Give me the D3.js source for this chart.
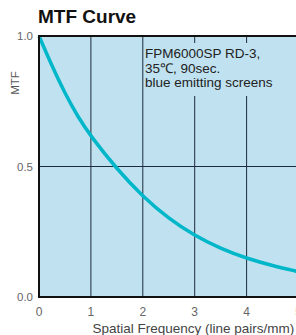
<!DOCTYPE html>
<html>
<head>
<meta charset="utf-8">
<script src="https://cdn.jsdelivr.net/npm/d3@7"></script>
<style>
  body { margin: 0; background: #fff; overflow: hidden; }
  text { font-family: "Liberation Sans", Arial, sans-serif; }
</style>
</head>
<body>
<div id="chart"></div>
<script>
// data
const freq = [0, 0.25, 0.5, 0.75, 1, 1.5, 2, 2.5, 3, 3.5, 4, 4.5, 5];
const mtf = [1.0, 0.885, 0.78, 0.69, 0.615, 0.49, 0.385, 0.30, 0.235, 0.185, 0.148, 0.12, 0.097];
const xTicks = [0, 1, 2, 3, 4, 5];
const yTicks = [0, 0.5, 1.0];
const noteLines = ['FPM6000SP RD-3,', '35\u2103, 90sec.', 'blue emitting screens'];

const width = 296;
const height = 335;
const margin = { top: 36, left: 39, bottom: 38 };
const plotRight = 298.5;

const svg = d3.select('#chart')
  .append('svg')
  .attr('width', width)
  .attr('height', height);

const x = d3.scaleLinear().domain([0, 5]).range([margin.left, plotRight]);
const y = d3.scaleLinear().domain([0, 1]).range([height - margin.bottom, margin.top]);

const bg = '#bfe1f0';
const gridColor = '#1c2c3c';

// title
svg.append('text')
  .attr('x', 38)
  .attr('y', 23)
  .attr('font-size', 19)
  .attr('font-weight', 'bold')
  .attr('fill', '#111')
  .text('MTF Curve');

// plot background
svg.append('rect')
  .attr('x', x(0))
  .attr('y', y(1))
  .attr('width', x(5) - x(0))
  .attr('height', y(0) - y(1))
  .attr('fill', bg);

// vertical grid
svg.append('g')
  .selectAll('line')
  .data(xTicks.filter(d => d > 0 && d < 5))
  .enter()
  .append('line')
  .attr('x1', d => x(d))
  .attr('x2', d => x(d))
  .attr('y1', y(1))
  .attr('y2', y(0))
  .attr('stroke', gridColor)
  .attr('stroke-width', 1);

// horizontal grid
svg.append('g')
  .selectAll('line')
  .data(yTicks.filter(d => d > 0 && d < 1))
  .enter()
  .append('line')
  .attr('x1', x(0))
  .attr('x2', x(5))
  .attr('y1', d => y(d))
  .attr('y2', d => y(d))
  .attr('stroke', gridColor)
  .attr('stroke-width', 1);

// note box hides the grid behind the text
svg.append('rect')
  .attr('x', 146)
  .attr('y', 43)
  .attr('width', 160)
  .attr('height', 53)
  .attr('fill', bg);

svg.append('g')
  .selectAll('text')
  .data(noteLines)
  .enter()
  .append('text')
  .attr('x', 145)
  .attr('y', (d, i) => 58 + i * 14.5)
  .attr('font-size', 13.5)
  .attr('fill', '#222')
  .text(d => d);

// curve
const line = d3.line()
  .x((d, i) => x(freq[i]))
  .y(d => y(d))
  .curve(d3.curveBasis);

svg.append('path')
  .attr('d', line(mtf))
  .attr('fill', 'none')
  .attr('stroke', '#00b7c9')
  .attr('stroke-width', 3.5);

// frame
svg.append('path')
  .attr('d', `M${x(5)},${y(1)}H${x(0)}V${y(0)}H${x(5)}`)
  .attr('fill', 'none')
  .attr('stroke', '#111')
  .attr('stroke-width', 2);

// y tick labels
svg.append('g')
  .selectAll('text')
  .data(yTicks)
  .enter()
  .append('text')
  .attr('x', 33)
  .attr('y', d => y(d) + 4)
  .attr('text-anchor', 'end')
  .attr('font-size', 11.5)
  .attr('fill', '#666')
  .text(d => d.toFixed(1));

// x tick labels
svg.append('g')
  .selectAll('text')
  .data(xTicks)
  .enter()
  .append('text')
  .attr('x', d => x(d))
  .attr('y', 316)
  .attr('text-anchor', 'middle')
  .attr('font-size', 12)
  .attr('fill', '#666')
  .text(d => d);

// axis titles
svg.append('text')
  .attr('x', 92.5)
  .attr('y', 333)
  .attr('font-size', 13.5)
  .attr('fill', '#444')
  .text('Spatial Frequency (line pairs/mm)');

svg.append('text')
  .attr('transform', 'translate(19,83) rotate(-90)')
  .attr('text-anchor', 'middle')
  .attr('font-size', 11.5)
  .attr('fill', '#555')
  .text('MTF');
</script>
</body>
</html>
